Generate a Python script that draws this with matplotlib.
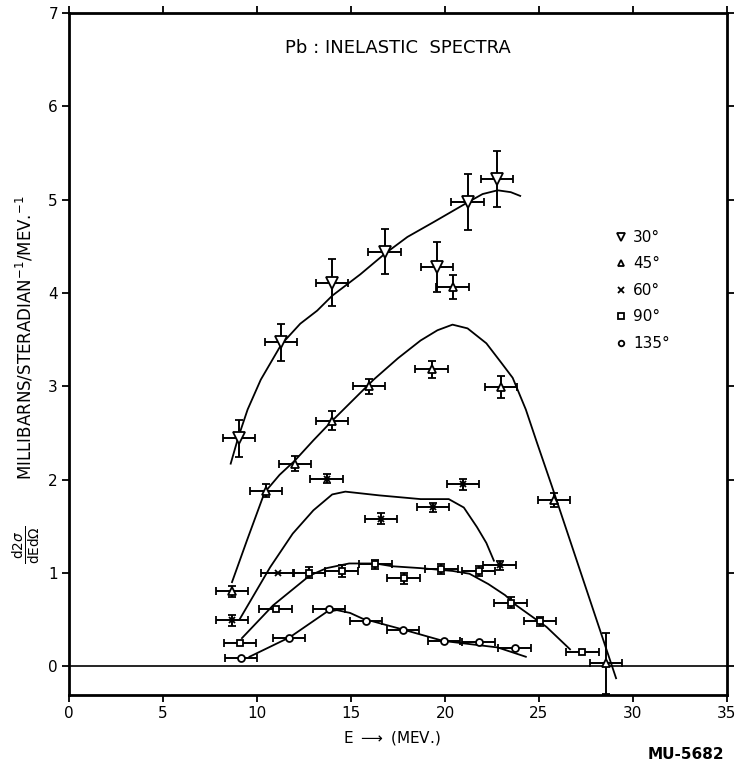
import matplotlib
matplotlib.use("Agg")
import matplotlib.pyplot as plt
from matplotlib.lines import Line2D

plt.rcParams['font.family'] = ['DejaVu Sans']

# measured points (E in MeV, cross section in mb/sr/MeV)
e30 = [9.04, 11.28, 13.99, 16.8, 19.57, 21.2, 22.77]
s30 = [2.44, 3.47, 4.11, 4.44, 4.28, 4.97, 5.22]
err30 = [0.2, 0.2, 0.25, 0.24, 0.27, 0.3, 0.3]

e45 = [8.67, 10.48, 12.02, 13.99, 15.96, 19.3, 20.4, 22.98, 25.8, 28.56]
s45 = [0.80, 1.88, 2.17, 2.63, 3.0, 3.18, 4.06, 2.99, 1.78, 0.03]
err45 = [0.06, 0.07, 0.08, 0.1, 0.08, 0.09, 0.13, 0.12, 0.08, 0.33]

e60 = [8.67, 11.1, 13.7, 16.6, 19.36, 20.96, 22.9]
s60 = [0.49, 1.0, 2.01, 1.58, 1.70, 1.95, 1.08]
err60 = [0.06, 0.0, 0.05, 0.06, 0.05, 0.06, 0.05]

e90 = [9.1, 11.0, 12.77, 14.5, 16.3, 17.8, 19.8, 21.8, 23.5, 25.05, 27.3]
s90 = [0.25, 0.61, 1.0, 1.02, 1.09, 0.94, 1.04, 1.02, 0.68, 0.48, 0.15]
err90 = [0.0, 0.0, 0.06, 0.06, 0.05, 0.06, 0.05, 0.05, 0.06, 0.05, 0.0]

e135 = [9.15, 11.7, 13.83, 15.8, 17.77, 19.95, 21.8, 23.7]
s135 = [0.09, 0.30, 0.61, 0.48, 0.39, 0.27, 0.26, 0.19]
err135 = [0, 0, 0, 0, 0, 0, 0, 0]

e_res = 0.87  # energy resolution bar half-width

# hand-drawn curves
c30_e = [8.6, 9.0, 9.5, 10.2, 11.3, 12.3, 13.2, 14.0, 15.5, 16.8, 18.0, 19.4, 21.2, 22.0, 22.8, 23.5, 24.0]
c30_s = [2.17, 2.45, 2.75, 3.07, 3.45, 3.67, 3.81, 3.97, 4.2, 4.42, 4.6, 4.76, 4.97, 5.06, 5.1, 5.08, 5.04]

c45_e = [8.67, 9.47, 10.4, 11.2, 12.0, 13.0, 14.0, 15.0, 16.2, 17.5, 18.7, 19.6, 20.4, 21.2, 22.2, 23.0, 23.6, 24.3, 24.9, 25.7, 29.1]
c45_s = [0.90, 1.35, 1.86, 2.05, 2.2, 2.42, 2.63, 2.83, 3.07, 3.3, 3.49, 3.6, 3.66, 3.62, 3.46, 3.25, 3.09, 2.75, 2.39, 1.92, -0.13]

c60_e = [9.1, 10.7, 11.9, 13.0, 14.0, 14.7, 16.5, 18.7, 20.2, 21.0, 21.7, 22.2, 22.6]
c60_s = [0.51, 1.06, 1.42, 1.67, 1.84, 1.87, 1.83, 1.79, 1.79, 1.70, 1.49, 1.32, 1.13]

c90_e = [9.2, 10.85, 12.8, 13.7, 14.9, 16.3, 17.2, 18.7, 20.4, 21.3, 22.3, 23.2, 23.8, 25.4, 26.65]
c90_s = [0.3, 0.65, 0.97, 1.05, 1.1, 1.1, 1.07, 1.05, 1.02, 0.99, 0.88, 0.76, 0.65, 0.42, 0.18]

c135_e = [9.6, 11.75, 13.7, 14.25, 14.95, 15.6, 17.8, 19.9, 22.8, 24.3]
c135_s = [0.1, 0.31, 0.58, 0.6, 0.57, 0.51, 0.39, 0.27, 0.2, 0.1]

labels = ['30°', '45°', '60°', '90°', '135°']
markers = ['v', '^', 'x', 's', 'o']
msizes = [8, 6, 5, 5, 5]

fig = plt.figure(figsize=(7.35, 7.63), dpi=100)
ax = fig.add_axes([0.0939, 0.0891, 0.8952, 0.8938])

series = [(e30, s30, err30), (e45, s45, err45), (e60, s60, err60),
          (e90, s90, err90), (e135, s135, err135)]
for (e, s, err), m, ms in zip(series, markers, msizes):
    ax.errorbar(e, s, yerr=err, xerr=e_res, fmt=m, ms=ms, mfc='white', mec='black',
                mew=1.3, ecolor='black', elinewidth=1.4, capsize=3, capthick=1.4, zorder=3)

for ce, cs in [(c30_e, c30_s), (c45_e, c45_s), (c60_e, c60_s), (c90_e, c90_s), (c135_e, c135_s)]:
    ax.plot(ce, cs, color='black', lw=1.3, zorder=2)

ax.axhline(0, color='black', lw=1.2, zorder=1)

ax.set_xlim(0, 35)
ax.set_ylim(-0.31, 7)
ax.set_xticks(range(0, 36, 5))
ax.set_yticks(range(0, 8))
ax.tick_params(direction='out', length=5, width=1.3, labelsize=11, top=True, right=True, pad=3)
for sp in ax.spines.values():
    sp.set_linewidth(2)

ax.text(17.5, 6.63, 'Pb : INELASTIC  SPECTRA', ha='center', va='center', fontsize=13)

handles = [Line2D([], [], ls='none', marker=m, ms=ms * 0.8, mfc='white', mec='black', mew=1.3)
           for m, ms in zip(markers, msizes)]
ax.legend(handles, labels, loc='upper left', bbox_to_anchor=(0.806, 0.702), frameon=False,
          fontsize=11, handletextpad=0.3, labelspacing=0.75, handlelength=1.0)

fig.text(0.533, 0.033, 'E $\\longrightarrow$ (MEV.)', ha='center', va='center', fontsize=11)
fig.text(0.034, 0.557, 'MILLIBARNS/STERADIAN$^{-1}$/MEV.$^{-1}$', rotation=90,
         ha='center', va='center', fontsize=12)
fig.text(0.037, 0.286, r'$\frac{\mathrm{d}2\sigma}{\mathrm{dEd}\Omega}$', rotation=90,
         ha='center', va='center', fontsize=14)
fig.text(0.986, 0.011, 'MU-5682', ha='right', va='center', fontsize=11, fontweight='bold')

fig.savefig('out.png', dpi=100)
